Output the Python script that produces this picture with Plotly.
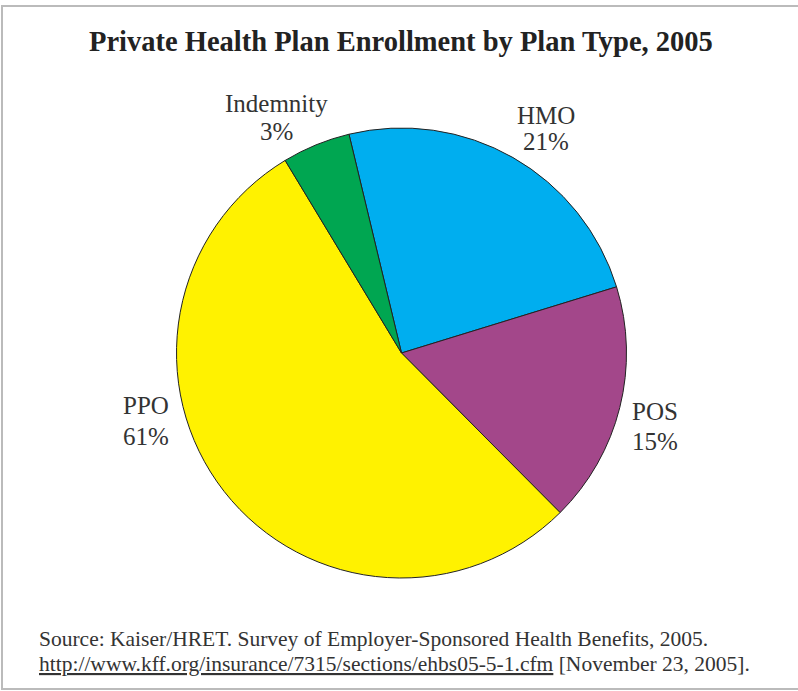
import plotly.graph_objects as go

labels = ["HMO", "POS", "PPO", "Indemnity"]
# slice sizes as drawn in the picture (arc shares)
drawn_share = [24.0, 17.3, 53.8, 4.9]
pct_labels = ["21%", "15%", "61%", "3%"]
colors = ["#00AEEF", "#A3478A", "#FFF200", "#00A651"]

title = "Private Health Plan Enrollment by Plan Type, 2005"
source_line = "Source: Kaiser/HRET. Survey of Employer-Sponsored Health Benefits, 2005."
url_line = "http://www.kff.org/insurance/7315/sections/ehbs05-5-1.cfm"
date_line = " [November 23, 2005]."

W, H = 798, 691
# label anchor positions in pixels: (x center, y of name line, y of percent line)
label_pos = [(546, 115, 142), (655, 412, 441), (146, 405, 436), (276, 104, 132)]

fig = go.Figure()
fig.add_trace(go.Pie(
    labels=labels,
    values=drawn_share,
    sort=False,
    direction="clockwise",
    rotation=-13.5,
    marker=dict(colors=colors, line=dict(color="#222222", width=1)),
    textinfo="none",
    hoverinfo="label",
    showlegend=False,
    domain=dict(x=[176.5 / W, 626.5 / W], y=[1 - 578 / H, 1 - 128 / H]),
))

serif = "Liberation Serif, Times New Roman, serif"
annotations = []
for lab, pct, (px, py1, py2) in zip(labels, pct_labels, label_pos):
    for txt, py in ((lab, py1), (pct, py2)):
        annotations.append(dict(
            x=px / W, y=1 - py / H, xref="paper", yref="paper",
            text=txt, showarrow=False,
            font=dict(family=serif, size=25, color="#333333"),
            xanchor="center", yanchor="middle", align="center",
        ))
annotations.append(dict(
    x=401 / W, y=1 - 42 / H, xref="paper", yref="paper",
    text=f"<b>{title}</b>", showarrow=False,
    font=dict(family=serif, size=28.5, color="#222222"),
    xanchor="center", yanchor="middle",
))
annotations.append(dict(
    x=37 / W, y=1 - 639 / H, xref="paper", yref="paper",
    text=source_line, showarrow=False,
    font=dict(family=serif, size=21.5, color="#333333"),
    xanchor="left", yanchor="middle", align="left",
))
annotations.append(dict(
    x=37 / W, y=1 - 664 / H, xref="paper", yref="paper",
    text=f"<u>{url_line}</u>{date_line}", showarrow=False,
    font=dict(family=serif, size=21.5, color="#333333"),
    xanchor="left", yanchor="middle", align="left",
))

fig.update_layout(
    width=W, height=H,
    margin=dict(l=0, r=0, t=0, b=0),
    paper_bgcolor="white", plot_bgcolor="white",
    annotations=annotations,
    shapes=[dict(type="rect", xref="paper", yref="paper",
                 x0=2 / W, x1=1.01, y0=1 - 689 / H, y1=1 - 6 / H,
                 line=dict(color="#BBBBBB", width=2))],
)

fig.write_html("out.html")
